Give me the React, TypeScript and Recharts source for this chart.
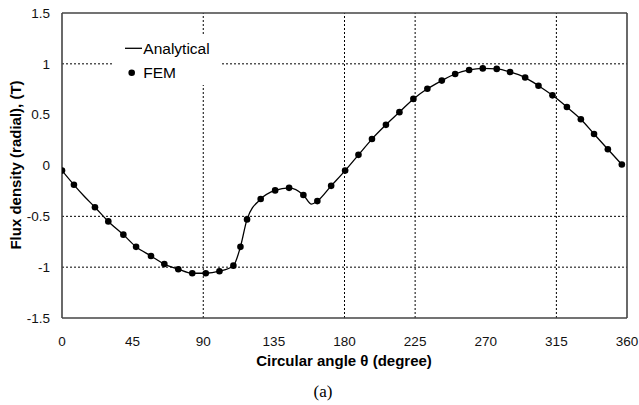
import React from "react";
import {
  ComposedChart,
  Line,
  Scatter,
  XAxis,
  YAxis,
  ReferenceLine,
  Legend,
} from "recharts";

// FEM sample points (degree, tesla)
const femAngle = [
  0, 7.6, 21, 29.5, 39.1, 47.2, 56.7, 65.2, 74.1, 83, 91.6, 100.3, 109.2, 113.7,
  117.9, 126.6, 135.8, 144.7, 153.8, 162.7, 171.5, 180.4, 188.9, 197.5, 206.4,
  215, 223.9, 232.8, 242, 250.5, 259.4, 268.1, 277, 285.5, 295.1, 303.6, 312.5,
  321.7, 330.6, 339, 347.8, 356.7,
];
const femFlux = [
  -0.05, -0.19, -0.41, -0.55, -0.68, -0.8, -0.89, -0.97, -1.02, -1.06, -1.06,
  -1.04, -0.985, -0.8, -0.53, -0.33, -0.245, -0.22, -0.29, -0.35, -0.2, -0.05,
  0.105, 0.26, 0.4, 0.525, 0.655, 0.755, 0.835, 0.9, 0.94, 0.955, 0.95, 0.92,
  0.865, 0.785, 0.69, 0.575, 0.455, 0.31, 0.16, 0.01,
];

// analytical curve
const analyticalAngle = [
  0, 7.6, 14, 21, 29.5, 39.1, 47.2, 56.7, 65.2, 74.1, 83, 91.6, 100.3, 109.2,
  113.7, 117.9, 126.6, 135.8, 144.7, 153.8, 159, 162.7, 171.5, 180.4, 188.9,
  197.5, 206.4, 215, 223.9, 232.8, 242, 250.5, 259.4, 268.1, 277, 285.5, 295.1,
  303.6, 312.5, 321.7, 330.6, 339, 347.8, 356.7,
];
const analyticalFlux = [
  -0.05, -0.19, -0.3, -0.41, -0.55, -0.68, -0.8, -0.89, -0.97, -1.02, -1.06,
  -1.06, -1.04, -0.985, -0.8, -0.53, -0.33, -0.245, -0.22, -0.29, -0.38, -0.35,
  -0.2, -0.05, 0.105, 0.26, 0.4, 0.525, 0.655, 0.755, 0.835, 0.9, 0.94, 0.955,
  0.95, 0.92, 0.865, 0.785, 0.69, 0.575, 0.455, 0.31, 0.16, 0.01,
];

const xTicks = [0, 45, 90, 135, 180, 225, 270, 315, 360];
const yTicks = [-1.5, -1, -0.5, 0, 0.5, 1, 1.5];
const xGrid = [90, 180, 225, 315];
const yGrid = [1, -0.5, -1];

const femData = femAngle.map((angle, i) => ({ angle, flux: femFlux[i] }));
const analyticalData = analyticalAngle.map((angle, i) => ({
  angle,
  flux: analyticalFlux[i],
}));

const sans = "'Liberation Sans', Arial, sans-serif";
const frame = "#444";

const FemDot = (props: any) => (
  <circle cx={props.cx} cy={props.cy} r={3.3} fill="#000" />
);

const LegendBox = () => (
  <svg width={110} height={50} style={{ display: "block", background: "#fff" }}>
    <line x1={13} y1={13.3} x2={30} y2={13.3} stroke="#000" strokeWidth={1.3} />
    <text x={31.3} y={18.8} fontFamily={sans} fontSize={15.5} fill="#000">
      Analytical
    </text>
    <circle cx={19.7} cy={37.7} r={3.3} fill="#000" />
    <text x={31.3} y={43.2} fontFamily={sans} fontSize={15.5} fill="#000">
      FEM
    </text>
  </svg>
);

export default function App() {
  return (
    <div style={{ width: 639, height: 405, background: "#fff" }}>
      <style>{"body{margin:0}"}</style>
      <ComposedChart
        width={639}
        height={405}
        margin={{ top: 13, right: 12, bottom: 57, left: 0 }}
      >
        <XAxis
          dataKey="angle"
          type="number"
          domain={[0, 360]}
          ticks={xTicks}
          allowDataOverflow
          height={30}
          tickSize={0}
          tickMargin={18}
          axisLine={{ stroke: frame, strokeWidth: 1.6 }}
          tick={{ fontSize: 13.5, fill: "#111", fontFamily: sans }}
          label={{
            content: () => (
              <g>
                <text
                  x={344}
                  y={366}
                  textAnchor="middle"
                  fontFamily={sans}
                  fontWeight="bold"
                  fontSize={15}
                  fill="#000"
                >
                  Circular angle θ (degree)
                </text>
                <text
                  x={323}
                  y={397}
                  textAnchor="middle"
                  fontFamily="'Liberation Serif', 'Times New Roman', serif"
                  fontSize={17}
                  fill="#000"
                >
                  (a)
                </text>
              </g>
            ),
          }}
        />
        <YAxis
          type="number"
          domain={[-1.5, 1.5]}
          ticks={yTicks}
          width={62}
          tickSize={0}
          tickMargin={12}
          axisLine={{ stroke: frame, strokeWidth: 1.6 }}
          tick={{ fontSize: 13.5, fill: "#111", fontFamily: sans }}
          tickFormatter={(v: number) => String(v)}
          label={{
            content: () => (
              <text
                x={15}
                y={165}
                transform="rotate(-90 15 165)"
                textAnchor="middle"
                dominantBaseline="central"
                fontFamily={sans}
                fontWeight="bold"
                fontSize={15}
                fill="#000"
              >
                Flux density (radial), (T)
              </text>
            ),
          }}
        />
        {yGrid.map((v) => (
          <ReferenceLine key={"y" + v} y={v} stroke="#000" strokeDasharray="2 2" />
        ))}
        {xGrid.map((v) => (
          <ReferenceLine key={"x" + v} x={v} stroke="#000" strokeDasharray="2 2" />
        ))}
        <ReferenceLine y={1.5} stroke={frame} strokeWidth={1.6} />
        <ReferenceLine x={360} stroke={frame} strokeWidth={1.6} />
        <Line
          data={analyticalData}
          dataKey="flux"
          type="monotone"
          stroke="#000"
          strokeWidth={1.3}
          dot={false}
          isAnimationActive={false}
          name="Analytical"
        />
        <Scatter
          data={femData}
          dataKey="flux"
          fill="#000"
          shape={FemDot}
          isAnimationActive={false}
          name="FEM"
        />
        <Legend
          layout="horizontal"
          verticalAlign="middle"
          align="center"
          content={LegendBox}
          wrapperStyle={{ position: "absolute", left: 112, top: 35, width: 110, height: 50 }}
        />
      </ComposedChart>
    </div>
  );
}
